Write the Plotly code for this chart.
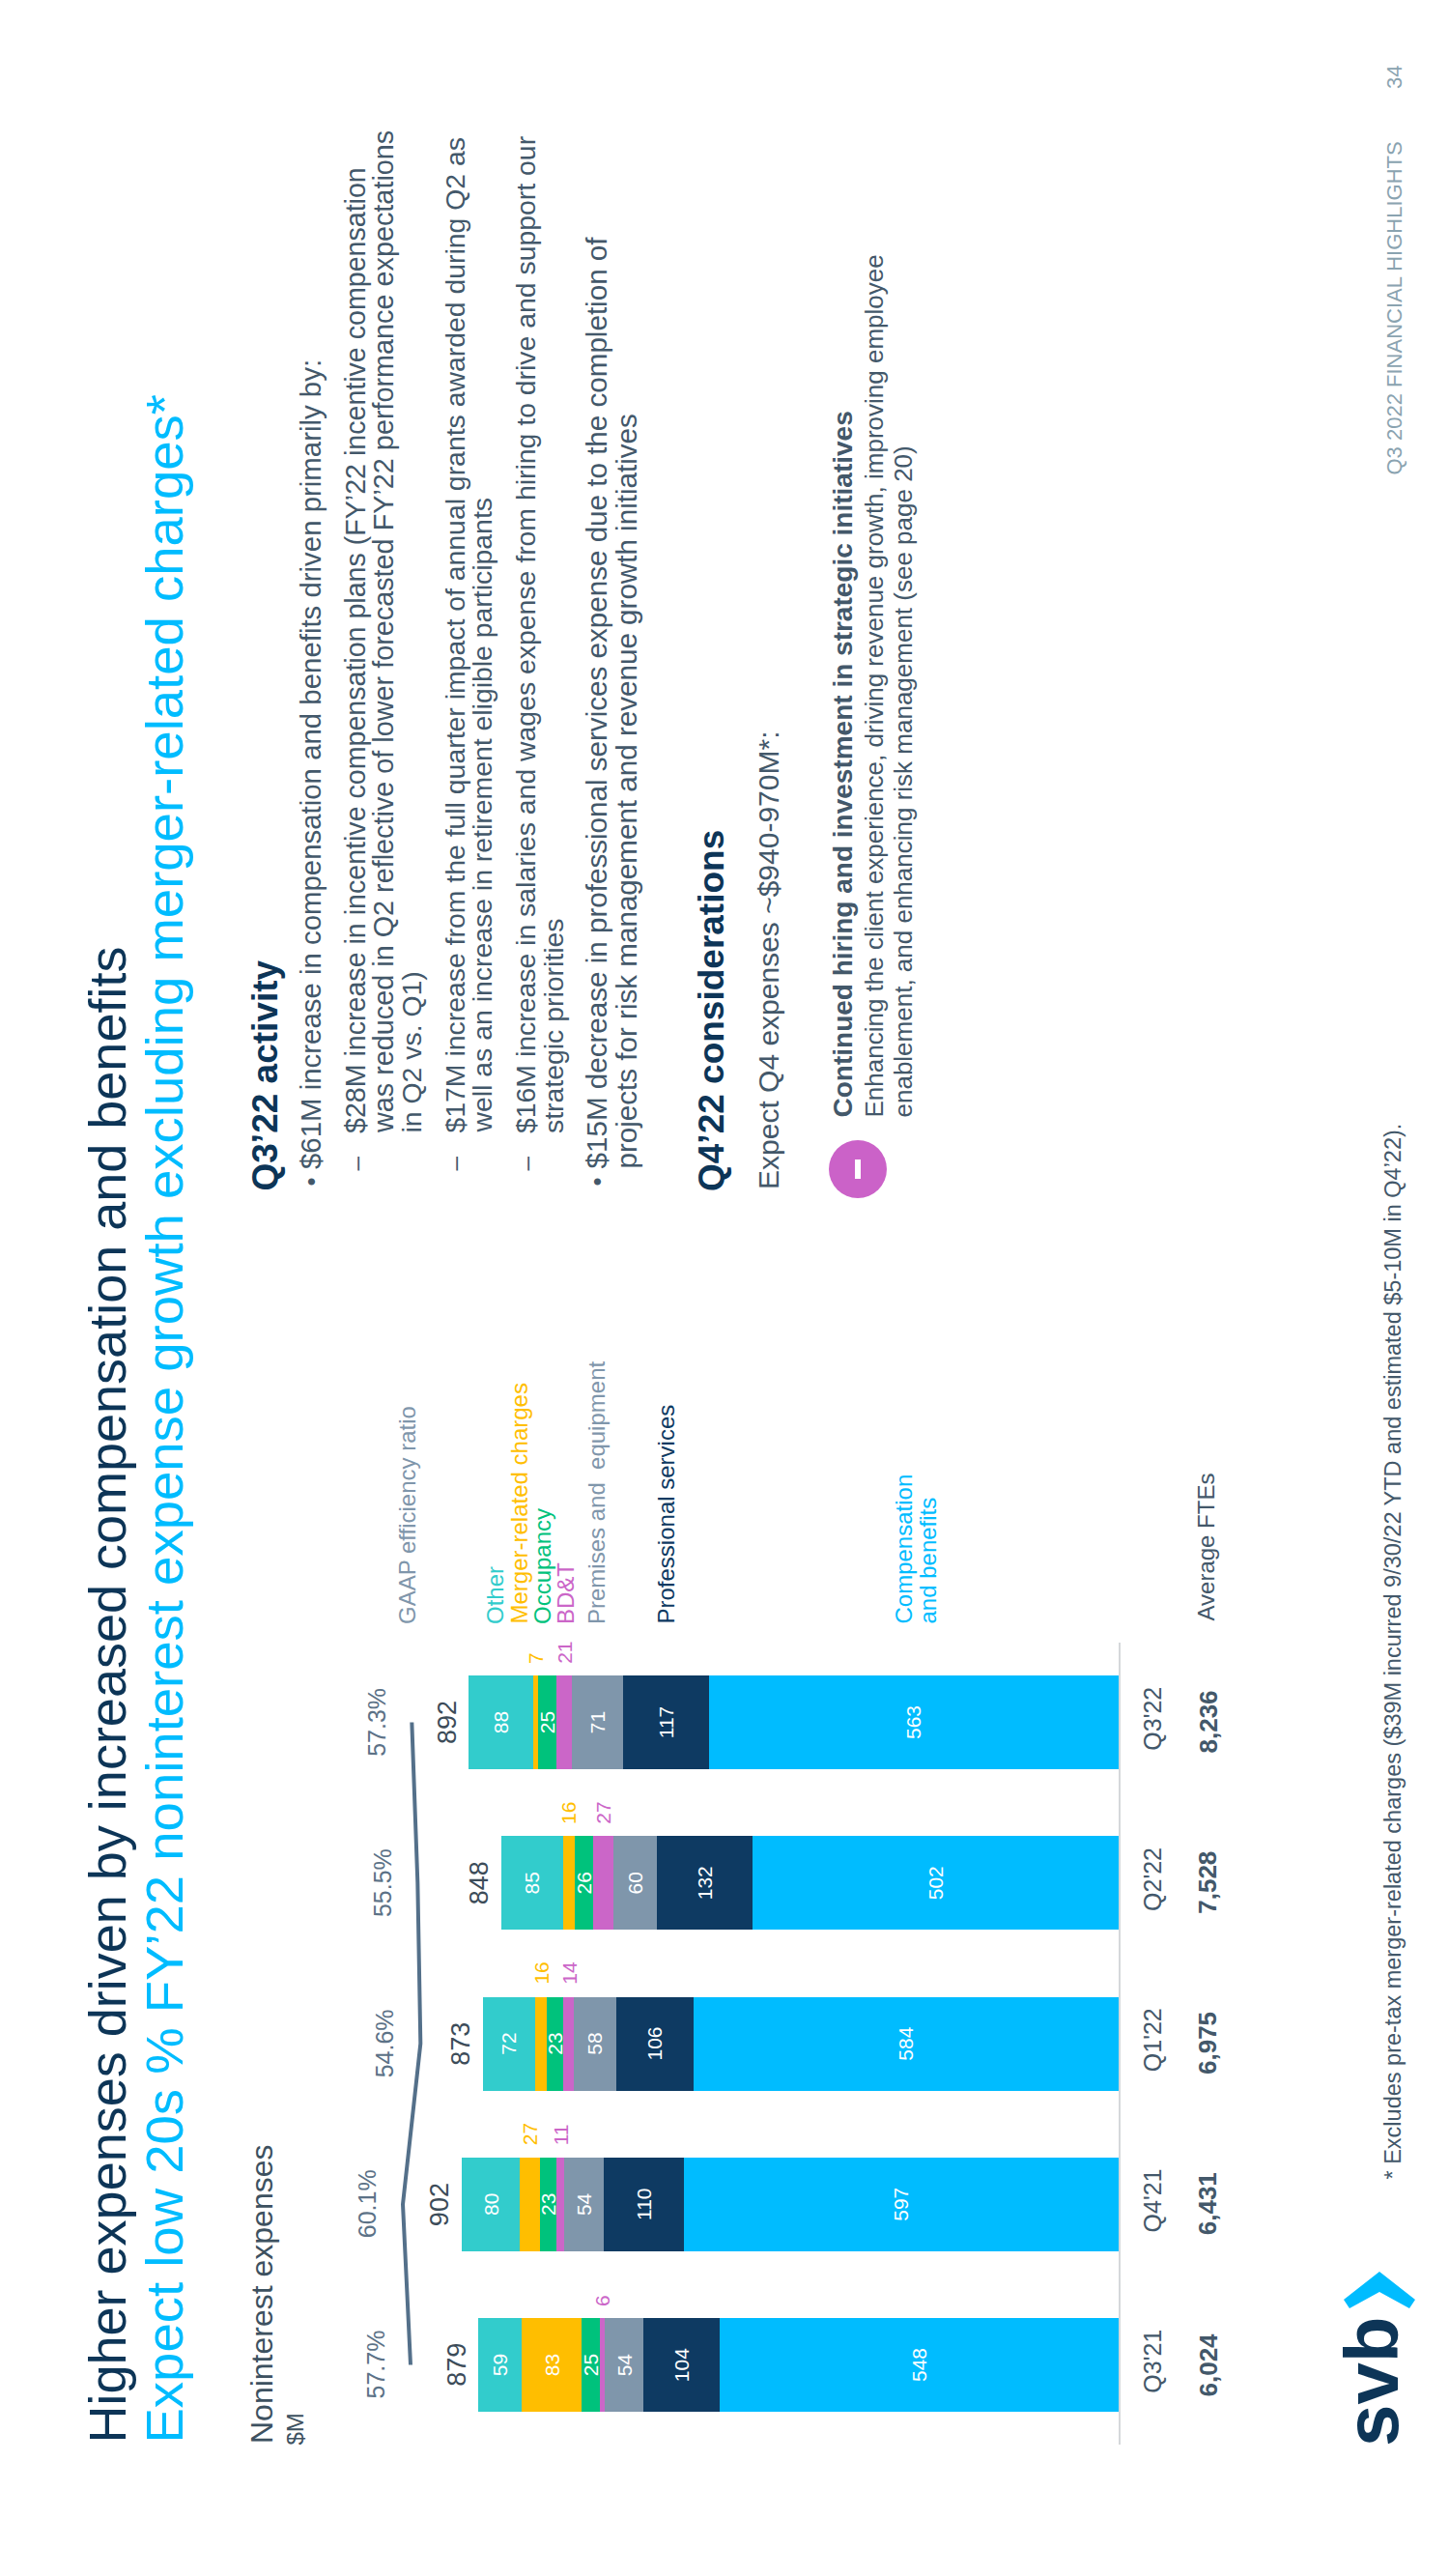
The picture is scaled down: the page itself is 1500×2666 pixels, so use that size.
import plotly.graph_objects as go

quarters = ["Q3'21", "Q4'21", "Q1'22", "Q2'22", "Q3'22"]
compensation = [548, 597, 584, 502, 563]
professional = [104, 110, 106, 132, 117]
premises = [54, 54, 58, 60, 71]
bdt = [6, 11, 14, 27, 21]
occupancy = [25, 23, 23, 26, 25]
merger = [83, 27, 16, 16, 7]
other = [59, 80, 72, 85, 88]
totals = [879, 902, 873, 848, 892]
efficiency = [57.7, 60.1, 54.6, 55.5, 57.3]
ftes = ["6,024", "6,431", "6,975", "7,528", "8,236"]

FONT = "Liberation Sans"
NAVY = "#0D3557"
BLUE = "#00BCFF"
BODY = "#43586A"
GREY = "#7F96AB"

# plot frame, page pixels
L, R, T, B = 400, 1158, 1700, 2530
W, H = 1500, 2666
PX_PER_UNIT = 0.754
Y0, Y_STEP = 2447.5, 166.25


def px(x):
    return (x - L) / (R - L)


def py(y):
    return (B - y) / (B - T)


series = [
    ("Compensation and benefits", compensation, BLUE, True),
    ("Professional services", professional, "#0E3A62", True),
    ("Premises and equipment", premises, GREY, True),
    ("BD&T", bdt, "#CB66C8", False),
    ("Occupancy", occupancy, "#00C27C", True),
    ("Merger-related charges", merger, "#FFBE00", None),
    ("Other", other, "#32CCCC", True),
]

fig = go.Figure()
for name, vals, col, inside in series:
    if inside is None:
        labels = [str(v) if v > 40 else "" for v in vals]
    elif inside:
        labels = [str(v) for v in vals]
    else:
        labels = ["" for v in vals]
    fig.add_trace(go.Bar(y=quarters, x=vals, name=name, orientation="h",
                         marker=dict(color=col, line=dict(width=0)),
                         text=labels, textposition="inside", textangle=-90,
                         insidetextanchor="middle", constraintext="none",
                         textfont=dict(family=FONT, size=21, color="white")))

fig.add_trace(go.Scatter(y=quarters, x=efficiency, xaxis="x2", mode="lines",
                         line=dict(color="#54708A", width=4), name="GAAP efficiency ratio"))

anns = []


def text(s, x, y, size, color, bold=False):
    anns.append(dict(text=f"<b>{s}</b>" if bold else s, xref="paper", yref="paper",
                     x=px(x), y=py(y), xanchor="center", yanchor="bottom", textangle=-90,
                     showarrow=False, borderpad=0, align="left",
                     font=dict(family=FONT, size=size, color=color)))


# outside small-segment labels
for i, q in enumerate(quarters):
    below = compensation[i] + professional[i] + premises[i]
    anns.append(dict(text=str(bdt[i]), xref="x", yref="y", x=below + bdt[i] / 2, y=q, yshift=60,
                     xanchor="center", yanchor="bottom", textangle=-90, showarrow=False, borderpad=0,
                     font=dict(family=FONT, size=21, color="#CB66C8")))
    below2 = below + bdt[i] + occupancy[i]
    if merger[i] <= 40:
        anns.append(dict(text=str(merger[i]), xref="x", yref="y", x=below2 + merger[i] / 2, y=q, yshift=60,
                         xanchor="center", yanchor="bottom", textangle=-90, showarrow=False, borderpad=0,
                         font=dict(family=FONT, size=21, color="#FFBE00")))
    anns.append(dict(text=str(totals[i]), xref="x", yref="y", x=totals[i], y=q, xshift=-7,
                     xanchor="right", yanchor="middle", textangle=-90, showarrow=False, borderpad=0,
                     font=dict(family=FONT, size=27, color="#3C4C59")))
    anns.append(dict(text=f"{efficiency[i]}%", xref="x2", yref="y", x=efficiency[i], y=q, xshift=-37,
                     xanchor="center", yanchor="middle", textangle=-90, showarrow=False, borderpad=0,
                     font=dict(family=FONT, size=25, color="#5C7287")))
    anns.append(dict(text=f"<b>{ftes[i]}</b>", xref="x", yref="y", x=0, y=q, xshift=92,
                     xanchor="center", yanchor="middle", textangle=-90, showarrow=False, borderpad=0,
                     font=dict(family=FONT, size=26, color=BODY)))

text("Higher expenses driven by increased compensation and benefits", 110, 2530, 54, NAVY)
text("Expect low 20s % FY’22 noninterest expense growth excluding merger-related charges*", 170, 2530, 54.5, BLUE)
text("Noninterest expenses", 271, 2530, 32, "#3D5160")
text("$M", 305, 2532, 24, "#3D5160")
LEG = 24
text("GAAP efficiency ratio", 421, 1682, LEG, GREY)
text("Other", 512, 1682, LEG, "#32CCCC")
text("Merger-related charges", 537, 1682, LEG, "#FFBE00")
text("Occupancy", 561, 1682, LEG, "#00C27C")
text("BD&amp;T", 585, 1682, LEG, "#CB66C8")
text("Premises and  equipment", 617, 1682, LEG, GREY)
text("Professional services", 689, 1682, LEG, "#0E3A62")
text("Compensation", 935, 1682, LEG, BLUE)
text("and benefits", 960, 1682, LEG, BLUE)
text("Average FTEs", 1248, 1679, LEG, BODY)

B1, B2 = 29.6, 28.4
text("Q3’22 activity", 274, 1234, 37, NAVY, True)
text("•", 321, 1229, 26, BODY)
text("$61M increase in compensation and benefits driven primarily by:", 321, 1211, 29.4, BODY)
text("–", 368, 1213, 26, BODY)
text("$28M increase in incentive compensation plans (FY’22 incentive compensation", 368, 1174, 28.6, BODY)
text("was reduced in Q2 reflective of lower forecasted FY’22 performance expectations", 397, 1174, 28.8, BODY)
text("in Q2 vs. Q1)", 425, 1174, B2, BODY)
text("–", 470, 1213, 26, BODY)
text("$17M increase from the full quarter impact of annual grants awarded during Q2 as", 470, 1174, B2, BODY)
text("well as an increase in retirement eligible participants", 498, 1174, B2, BODY)
text("–", 544, 1213, 26, BODY)
text("$16M increase in salaries and wages expense from hiring to drive and support our", 544, 1174, B2, BODY)
text("strategic priorities", 573, 1174, B2, BODY)
text("•", 617, 1229, 26, BODY)
text("$15M decrease in professional services expense due to the completion of", 617, 1211, B1, BODY)
text("projects for risk management and revenue growth initiatives", 648, 1211, B1, BODY)
text("Q4’22 considerations", 736, 1234, 37, NAVY, True)
text("Expect Q4 expenses ~$940-970M*:", 795, 1232, 30, BODY)
text("Continued hiring and investment in strategic initiatives", 872, 1158, 28, BODY, True)
text("Enhancing the client experience, driving revenue growth, improving employee", 904, 1158, 26, BODY)
text("enablement, and enhancing risk management (see page 20)", 934, 1158, 26, BODY)

text("* Excludes pre-tax merger-related charges ($39M incurred 9/30/22 YTD and estimated $5-10M in Q4’22).", 1441, 2257, 23.5, BODY)
text("Q3 2022 FINANCIAL HIGHLIGHTS", 1443, 493, 22, "#8AA3B0")
text("34", 1443, 93, 22, "#8AA3B0")
text("svb", 1420, 2533, 78, NAVY, True)


def path(pts):
    return "M " + " L ".join(f"{px(x):.5f} {py(y):.5f}" for x, y in pts) + " Z"


shapes = [
    dict(type="path", xref="paper", yref="paper", fillcolor=BLUE, line=dict(width=0),
         path=path([(1428, 2351), (1391, 2380), (1397, 2389), (1428, 2372), (1459, 2389), (1465, 2380)])),
    dict(type="circle", xref="paper", yref="paper", x0=px(858), x1=px(918), y0=py(1180), y1=py(1240),
         fillcolor="#CB62C8", line=dict(width=0)),
    dict(type="rect", xref="paper", yref="paper", x0=px(885), x1=px(891), y0=py(1200), y1=py(1220),
         fillcolor="white", line=dict(width=0)),
]

x_left = (R - L) / PX_PER_UNIT
# efficiency axis: 57.7 sits at page x 425, 3.33 px per point, growing leftward
x2_left = 57.7 + (425 - L) / 3.33
x2_right = 57.7 - (R - 425) / 3.33

fig.update_layout(
    width=W, height=H, autosize=False, barmode="stack", bargap=1 - 97 / Y_STEP,
    margin=dict(l=L, r=W - R, t=T, b=H - B, pad=0),
    paper_bgcolor="white", plot_bgcolor="white", showlegend=False,
    xaxis=dict(range=[x_left, 0], visible=False, fixedrange=True),
    xaxis2=dict(range=[x2_left, x2_right], overlaying="x", visible=False, fixedrange=True),
    yaxis=dict(type="category", categoryorder="array", categoryarray=quarters, side="right",
               range=[(Y0 - B) / Y_STEP, (Y0 - T) / Y_STEP], showgrid=False, zeroline=False,
               showline=True, linecolor="#D5D8DB", linewidth=2, ticks="outside", ticklen=12,
               tickcolor="rgba(0,0,0,0)", tickangle=-90, fixedrange=True,
               tickfont=dict(family=FONT, size=25, color=BODY)),
    annotations=anns, shapes=shapes,
)

fig.write_html("out.html", config={"displayModeBar": False},
               post_script="document.body.style.margin='0';")
